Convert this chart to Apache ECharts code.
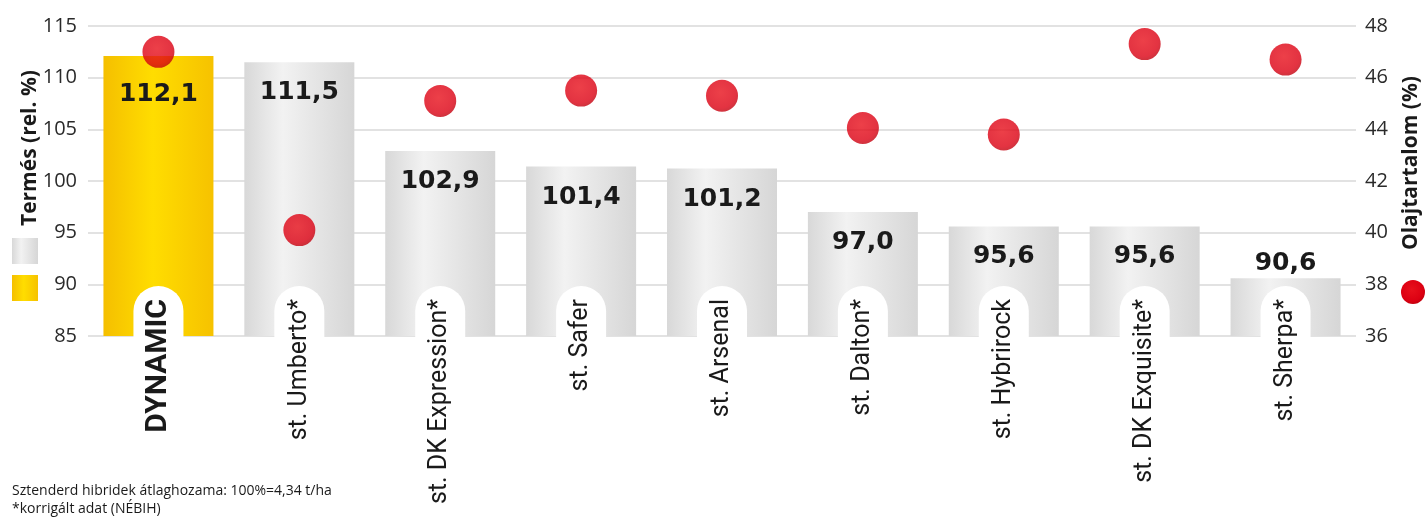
<!DOCTYPE html>
<html><head><meta charset="utf-8">
<script src="https://cdn.jsdelivr.net/npm/echarts@6/dist/echarts.min.js"></script>
<style>html,body{margin:0;padding:0;background:#fff}#c{width:1426px;height:518px}</style>
</head><body><div id="c"></div>
<script>
const categories = ['DYNAMIC','st. Umberto*','st. DK Expression*','st. Safer','st. Arsenal','st. Dalton*','st. Hybrirock','st. DK Exquisite*','st. Sherpa*'];
const yieldValues = [112.1,111.5,102.9,101.4,101.2,97.0,95.6,95.6,90.6];
const oilValues = [47.0,40.1,45.1,45.5,45.3,44.05,43.8,47.3,46.7];
const leftTicks = {min:85,max:115,interval:5};
const rightTicks = {min:36,max:48,interval:2};
const leftTitle = 'Termés (rel. %)';
const rightTitle = 'Olajtartalom (%)';
const footnotes = ['Sztenderd hibridek átlaghozama: 100%=4,34 t/ha','*korrigált adat (NÉBIH)'];

const yellowGrad = new echarts.graphic.LinearGradient(0,0,1,0,[{offset:0,color:'#f5bf00'},{offset:0.45,color:'#ffdd00'},{offset:1,color:'#f6c200'}]);
const grayGrad = new echarts.graphic.LinearGradient(0,0,1,0,[{offset:0,color:'#d8d8d8'},{offset:0.35,color:'#f2f2f2'},{offset:1,color:'#d6d6d6'}]);
const redGrad = new echarts.graphic.RadialGradient(0.45,0.4,0.6,[{offset:0,color:'#e8101b'},{offset:0.8,color:'#dc0012'},{offset:1,color:'#c4000e'}]);

const labelFont = 'Liberation Sans Narrow, Roboto, sans-serif';
const valueLabel = {show:true,position:'insideTop',distance:18,fontFamily:'DejaVu Sans, sans-serif',fontWeight:'bold',fontSize:25,color:'#1a1a1a',
  formatter:p=>p.value.toFixed(1).replace('.',',')};

const chart = echarts.init(document.getElementById('c'));
chart.setOption({
  animation:false,
  grid:{left:88,right:70,top:26,bottom:182},
  xAxis:{type:'category',data:categories,z:10,
    axisLine:{show:false},axisTick:{show:false},
    axisLabel:{interval:0,rotate:90,margin:-50,
      fontFamily:labelFont,fontSize:25,color:'#1a1a1a',
      lineHeight:26,backgroundColor:'#fff',borderRadius:[0,25,25,0],padding:[12,13,12,6],
      formatter:(v,i)=> i===0 ? '{b|'+v+'}' : v,
      rich:{b:{fontWeight:'bold',fontSize:30,fontFamily:labelFont,color:'#1a1a1a'}}
    }},
  yAxis:[
    {type:'value',min:leftTicks.min,max:leftTicks.max,interval:leftTicks.interval,
      axisLine:{show:false},axisTick:{show:false},
      axisLabel:{fontFamily:'Open Sans, sans-serif',fontSize:20,color:'#2a2a2a',margin:11},
      splitLine:{lineStyle:{color:'#d9d9d9',width:1.5}}},
    {type:'value',min:rightTicks.min,max:rightTicks.max,interval:rightTicks.interval,
      axisLine:{show:false},axisTick:{show:false},
      axisLabel:{fontFamily:'Open Sans, sans-serif',fontSize:20,color:'#2a2a2a',margin:9},
      splitLine:{show:false}}
  ],
  series:[
    {type:'bar',barWidth:110,yAxisIndex:0,z:2,
      data:yieldValues.map((v,i)=>{
        const d={value:v,itemStyle:{color:i===0?yellowGrad:grayGrad}};
        if(i===0) d.label={distance:26};
        if(i===yieldValues.length-1) d.label={position:'top',distance:2};
        return d;}),
      label:valueLabel},
    {type:'scatter',yAxisIndex:1,z:5,symbolSize:32,data:oilValues,itemStyle:{color:redGrad}}
  ],
  graphic:[
    {type:'text',rotation:Math.PI/2,x:30,y:226,style:{text:leftTitle,font:'bold 21px "Open Sans", sans-serif',fill:'#1a1a1a',align:'left',verticalAlign:'middle'}},
    {type:'text',rotation:Math.PI/2,x:1411,y:250,style:{text:rightTitle,font:'bold 21px "Open Sans", sans-serif',fill:'#1a1a1a',align:'left',verticalAlign:'middle'}},
    {type:'rect',shape:{x:12,y:238,width:26,height:26},style:{fill:grayGrad}},
    {type:'rect',shape:{x:12,y:275,width:26,height:26},style:{fill:yellowGrad}},
    {type:'circle',shape:{cx:1413,cy:292,r:12},style:{fill:redGrad}},
    {type:'text',style:{text:footnotes[0],x:12,y:484,font:'14px "Open Sans", sans-serif',fill:'#1a1a1a'}},
    {type:'text',style:{text:footnotes[1],x:12,y:502,font:'14px "Open Sans", sans-serif',fill:'#1a1a1a'}}
  ]
});
</script></body></html>
